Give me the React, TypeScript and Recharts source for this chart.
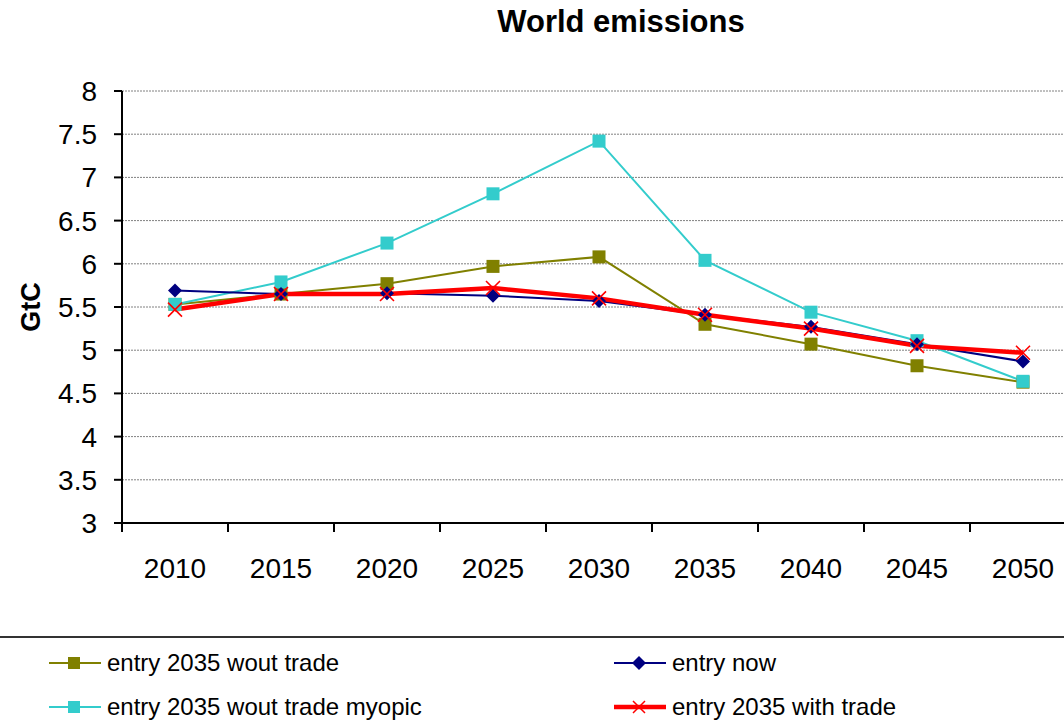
import React from 'react';
import { LineChart, Line, XAxis, YAxis, CartesianGrid } from 'recharts';

const years = ['2010', '2015', '2020', '2025', '2030', '2035', '2040', '2045', '2050'];
const woutTrade = [5.53, 5.65, 5.77, 5.97, 6.08, 5.3, 5.07, 4.82, 4.63];
const woutTradeMyopic = [5.53, 5.79, 6.24, 6.81, 7.42, 6.04, 5.44, 5.11, 4.64];
const entryNow = [5.69, 5.65, 5.66, 5.63, 5.57, 5.41, 5.27, 5.07, 4.87];
const withTrade = [5.47, 5.65, 5.65, 5.72, 5.6, 5.41, 5.25, 5.05, 4.97];
const yTicks = [3, 3.5, 4, 4.5, 5, 5.5, 6, 6.5, 7, 7.5, 8];

const data = years.map((y, i) => ({
  year: y,
  woutTrade: woutTrade[i],
  myopic: woutTradeMyopic[i],
  now: entryNow[i],
  withTrade: withTrade[i],
}));

const FONT = '"Liberation Sans", Arial, sans-serif';

const Square = (color: string, s: number) => (props: any) => {
  const { cx, cy } = props;
  if (cx == null || cy == null) return null;
  return <rect x={cx - s / 2} y={cy - s / 2} width={s} height={s} fill={color} stroke="none" />;
};
const Diamond = (color: string, s: number) => (props: any) => {
  const { cx, cy } = props;
  if (cx == null || cy == null) return null;
  const h = s / 2;
  return <path d={`M${cx},${cy - h}L${cx + h},${cy}L${cx},${cy + h}L${cx - h},${cy}Z`} fill={color} />;
};
const Cross = (color: string, s: number) => (props: any) => {
  const { cx, cy } = props;
  if (cx == null || cy == null) return null;
  const h = s / 2;
  return (
    <path d={`M${cx - h},${cy - h}L${cx + h},${cy + h}M${cx - h},${cy + h}L${cx + h},${cy - h}`} stroke={color} strokeWidth={1.6} fill="none" />
  );
};

const series = [
  { key: 'woutTrade', name: 'entry 2035 wout trade', color: '#808000', width: 2, dot: Square('#808000', 13), mk: 'sq' },
  { key: 'myopic', name: 'entry 2035 wout trade myopic', color: '#33CCCC', width: 2, dot: Square('#33CCCC', 13), mk: 'sq' },
  { key: 'now', name: 'entry now', color: '#000080', width: 2, dot: Diamond('#000080', 14), mk: 'di' },
  { key: 'withTrade', name: 'entry 2035 with trade', color: '#FF0000', width: 4.5, dot: Cross('#FF0000', 14), mk: 'x' },
];

const BAND = 106;
const TICK_MARGIN = 35;

const XTick = (props: any) => {
  const { x, y, payload } = props;
  const axisY = y - TICK_MARGIN;
  return (
    <g>
      <line x1={x - BAND / 2} y1={axisY} x2={x - BAND / 2} y2={axisY + 9} stroke="#000" strokeWidth={2} />
      <text x={x} y={y} dy="0.71em" textAnchor="middle" fontSize={28} fontFamily={FONT} fill="#000">
        {payload.value}
      </text>
    </g>
  );
};

const LegendMarker = ({ s }: { s: any }) => {
  const cx = 26, cy = 12;
  let m: React.ReactNode = null;
  if (s.mk === 'sq') m = <rect x={cx - 6} y={cy - 6} width={12} height={12} fill={s.color} />;
  if (s.mk === 'di') m = <path d={`M${cx},${cy - 7}L${cx + 7},${cy}L${cx},${cy + 7}L${cx - 7},${cy}Z`} fill={s.color} />;
  if (s.mk === 'x') m = <path d={`M${cx - 6},${cy - 6}L${cx + 6},${cy + 6}M${cx - 6},${cy + 6}L${cx + 6},${cy - 6}`} stroke={s.color} strokeWidth={1.5} />;
  return (
    <svg width={54} height={24} style={{ display: 'block' }}>
      <line x1={1} y1={cy} x2={53} y2={cy} stroke={s.color} strokeWidth={s.mk === 'x' ? 4.5 : 2} />
      {m}
    </svg>
  );
};

export default function App() {
  const legendPos = [
    { s: series[0], left: 48, top: 663 },
    { s: series[2], left: 613, top: 663 },
    { s: series[1], left: 48, top: 707 },
    { s: series[3], left: 613, top: 707 },
  ];
  return (
    <div style={{ position: 'absolute', left: 0, top: 0, width: 1064, height: 728, overflow: 'hidden', background: '#fff', fontFamily: FONT }}>
      <div style={{ position: 'absolute', top: 6, left: 0, width: 1242, textAlign: 'center', fontSize: 31, lineHeight: '31px', fontWeight: 'bold', color: '#000' }}>
        World emissions
      </div>
      <div style={{ position: 'absolute', left: 0, top: 0 }}>
        <LineChart width={1090} height={600} data={data} margin={{ top: 91, right: 14, bottom: 0, left: 0 }}>
          <CartesianGrid horizontal vertical={false} stroke="#808080" strokeDasharray="2 1" />
          <XAxis
            dataKey="year"
            height={77}
            padding={{ left: BAND / 2, right: BAND / 2 }}
            tick={<XTick />}
            tickLine={false}
            tickSize={0}
            tickMargin={TICK_MARGIN}
            axisLine={{ stroke: '#000', strokeWidth: 2 }}
            interval={0}
          />
          <YAxis
            width={122}
            domain={[3, 8]}
            ticks={yTicks}
            type="number"
            tickSize={8}
            tickMargin={17}
            interval={0}
            tick={{ fontSize: 28, fontFamily: FONT, fill: '#000' }}
            tickLine={{ stroke: '#000', strokeWidth: 2 }}
            axisLine={{ stroke: '#000', strokeWidth: 2 }}
            label={{ value: 'GtC', angle: -90, position: 'insideLeft', offset: 30, style: { fontSize: 27, fontWeight: 'bold', fontFamily: FONT, fill: '#000', textAnchor: 'middle' } }}
          />
          {series.map((s) => (
            <Line
              key={s.key}
              dataKey={s.key}
              name={s.name}
              stroke={s.color}
              strokeWidth={s.width}
              dot={s.dot}
              activeDot={false}
              type="linear"
              isAnimationActive={false}
            />
          ))}
        </LineChart>
      </div>
      <div style={{ position: 'absolute', left: 0, top: 636, width: 1064, height: 2, background: '#333' }} />
      {legendPos.map(({ s, left, top }) => (
        <div key={s.key} style={{ position: 'absolute', left, top: top - 12, display: 'flex', alignItems: 'center', height: 24 }}>
          <LegendMarker s={s} />
          <span style={{ fontSize: 24, lineHeight: '24px', marginLeft: 5, color: '#000', whiteSpace: 'nowrap' }}>{s.name}</span>
        </div>
      ))}
    </div>
  );
}
